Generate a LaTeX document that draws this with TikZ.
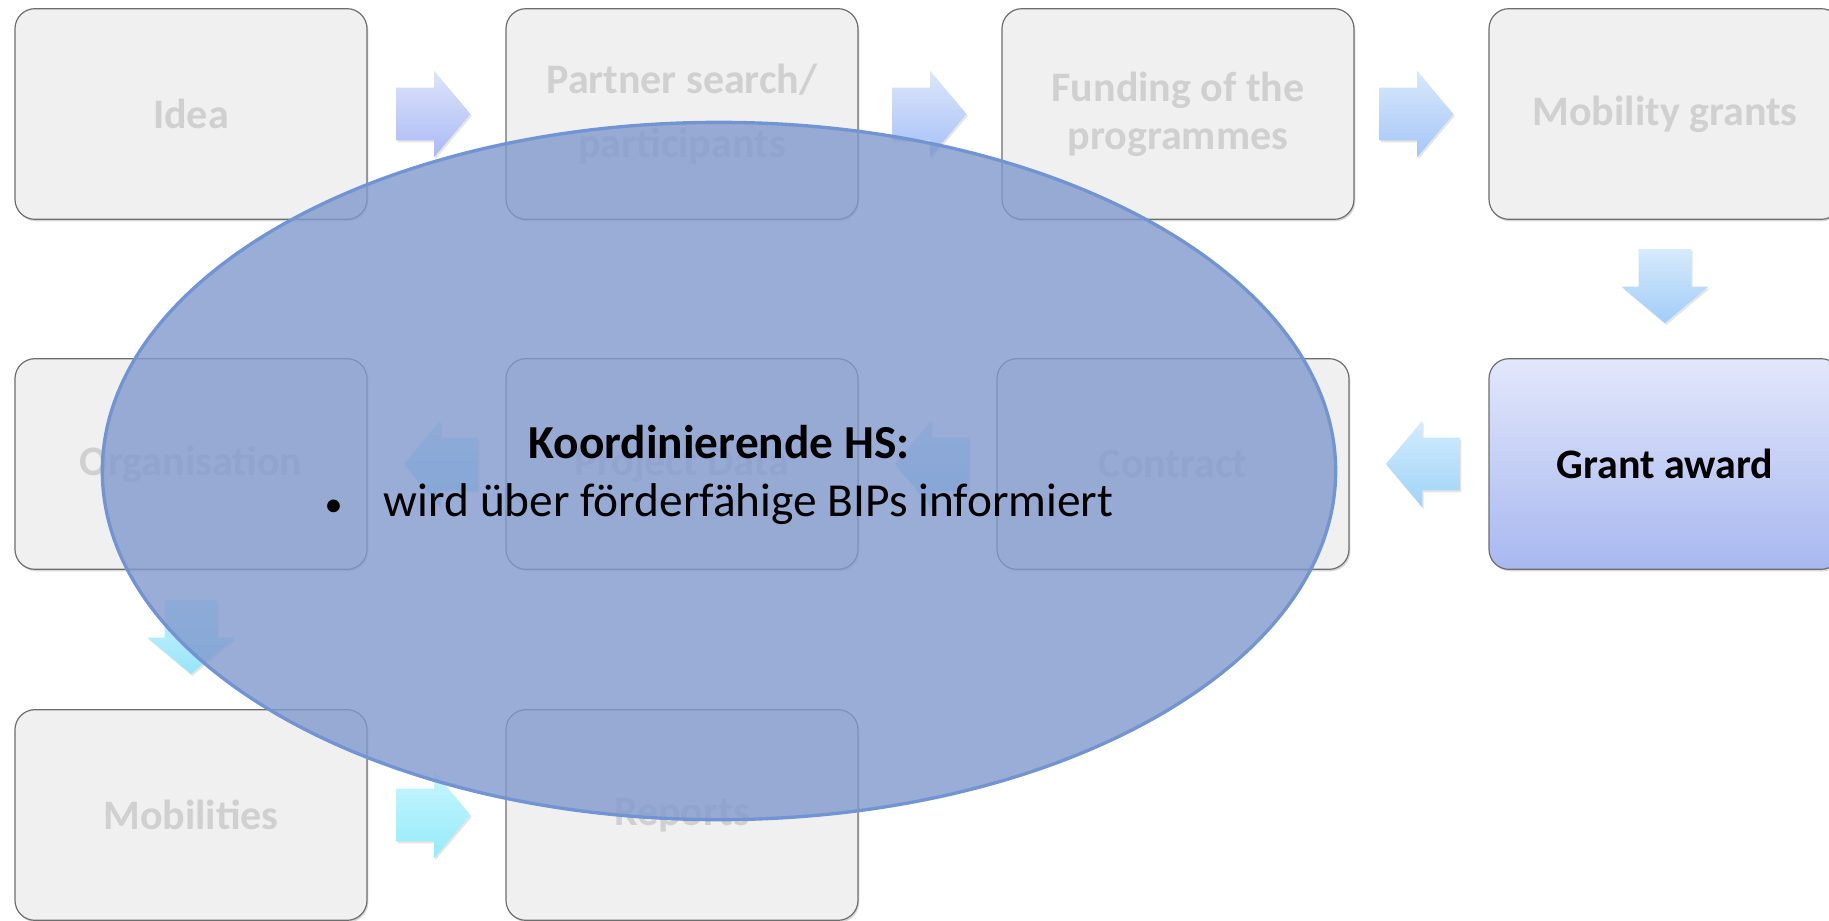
\documentclass[tikz,border=0pt]{standalone}
\usepackage{fontspec}
\setmainfont{Carlito}
\usepackage{tikz}
\usetikzlibrary{calc, positioning, shapes.geometric, shapes.arrows, shadows}

\definecolor{stagefill}{RGB}{240,240,240}
\definecolor{stageline}{RGB}{110,110,110}
\definecolor{stagetext}{RGB}{208,208,208}
\definecolor{granttop}{RGB}{226,231,250}
\definecolor{grantbottom}{RGB}{168,184,240}
\definecolor{flowtopA}{RGB}{222,228,250}
\definecolor{flowtopB}{RGB}{200,245,255}
\definecolor{flowbotA}{RGB}{170,186,246}
\definecolor{flowbotB}{RGB}{148,235,250}
\definecolor{notefill}{RGB}{128,153,206}
\definecolor{noteline}{RGB}{115,148,210}

\begin{document}
\begin{tikzpicture}[
    x=0.75pt, y=0.75pt,
    font=\fontsize{31.5}{36}\selectfont\bfseries,
    stage/.style={draw=stageline, line width=0.9pt, fill=stagefill, rounded corners=15pt,
        minimum width=264pt, minimum height=158pt, align=center, text=stagetext,
        drop shadow={shadow xshift=1pt, shadow yshift=-1.5pt, opacity=0.3}},
    flow/.style={single arrow, draw=none, top color=flowtopB!#1!flowtopA, bottom color=flowbotB!#1!flowbotA,
        minimum height=55.5pt, minimum width=64.5pt, inner xsep=0pt, inner ysep=19.5pt,
        single arrow head extend=12.75pt, single arrow tip angle=100,
        drop shadow={shadow xshift=1pt, shadow yshift=-1.5pt, opacity=0.2}},
    flowdown/.style={flow=#1, shape border rotate=270, inner xsep=19.5pt, inner ysep=0pt},
    flowleft/.style={flow=#1, shape border rotate=180},
    note/.style={ellipse, draw=noteline, line width=2.5pt, fill=notefill, fill opacity=0.8,
        minimum width=925pt, minimum height=523pt, inner sep=0pt},
    notetext/.style={align=center, text=black, font=\fontsize{35.5}{43}\selectfont}
]
    \path[use as bounding box, fill=white] (0,0) rectangle (1829,-921);

    % First row
    \node[stage] (idea) at (191,-114) {Idea};
    \node[stage] (partner) at (682,-114) {Partner search/\\[12pt]participants};
    \node[stage] (funding) at (1178,-114) {Funding of the\\programmes};
    \node[stage] (grants) at (1665,-114) {Mobility grants};

    % Second row (read from right to left)
    \node[stage] (orga) at (191,-464) {Organisation};
    \node[stage] (projdata) at (682,-464) {Project Data};
    \node[stage] (contract) at (1173,-464) {Contract};
    \node[stage, top color=granttop, bottom color=grantbottom, text=black] (award) at (1665,-464) {Grant award};

    % Third row
    \node[stage] (mobil) at (191,-815) {Mobilities};
    \node[stage] (reports) at (682,-815) {Reports};

    % Block arrows, tip placed just before the next stage
    \node[flow=0, left=26pt of partner.west] (f1) {};
    \node[flow=12.5, left=26pt of funding.west] (f2) {};
    \node[flow=25, left=26pt of grants.west] (f3) {};
    \node[flowdown=37.5, above=26pt of award.north] (f4) {};
    \node[flowleft=50, right=27pt of contract.east] (f5) {};
    \node[flowleft=62.5, right=27pt of projdata.east] (f6) {};
    \node[flowleft=75, right=27pt of orga.east] (f7) {};
    \node[flowdown=87.5, above=26pt of mobil.north] (f8) {};
    \node[flow=100, left=26pt of reports.west] (f9) {};

    % Overlay
    \node[note] (hs) at (719,-471) {};
    \node[notetext] (hstext) at ($(hs.center)+(0,-4)$) {\textbf{Koordinierende HS:}\\{\fontsize{27}{27}\selectfont\textbullet}\hspace{31pt}wird über förderfähige BIPs informiert};

\end{tikzpicture}
\end{document}
